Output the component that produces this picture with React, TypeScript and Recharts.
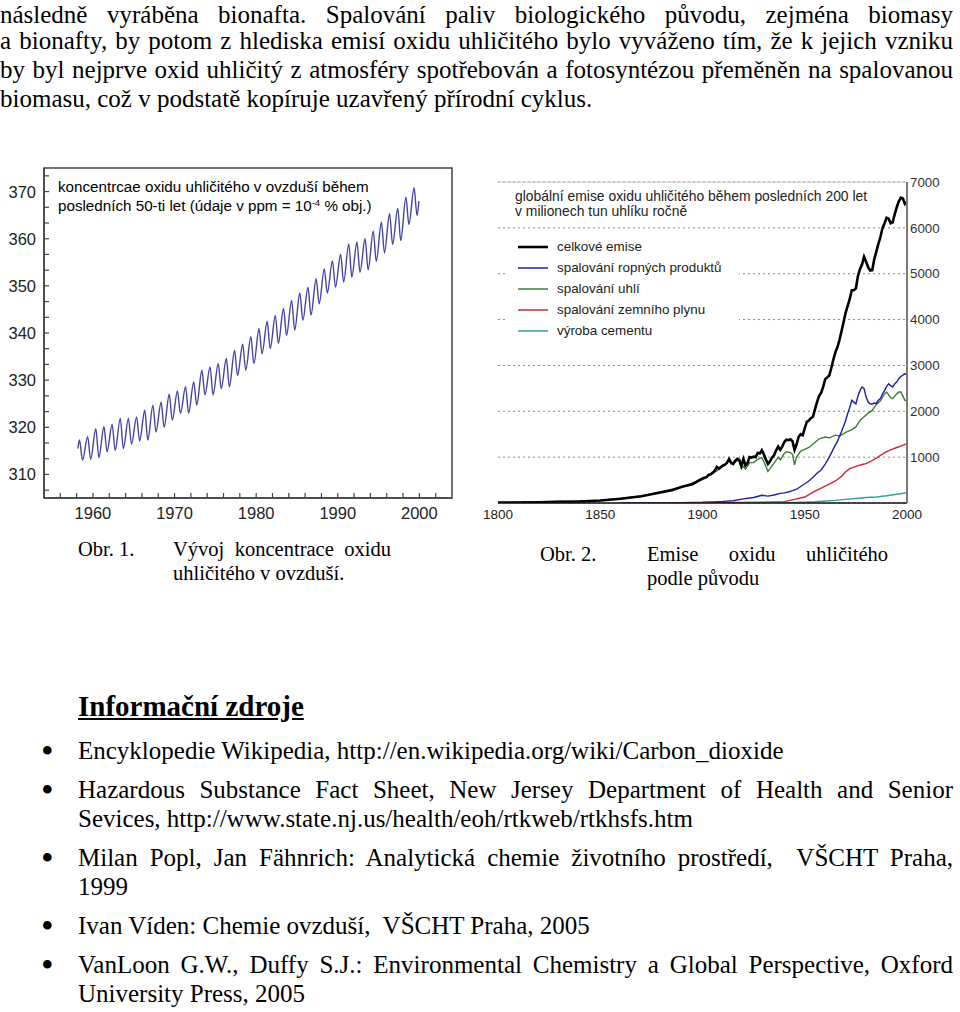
import { LineChart, Line, XAxis, YAxis, CartesianGrid, ReferenceArea, ReferenceLine, Legend } from 'recharts'

const serif = '"Liberation Serif", "Times New Roman", serif'
const sans = '"Liberation Sans", Arial, sans-serif'

// Obr. 1 – koncentrace CO2 v ppm, roční maxima a minima
const co2Years = [
  1958, 1959, 1960, 1961, 1962, 1963, 1964, 1965, 1966, 1967, 1968, 1969, 1970, 1971,
  1972, 1973, 1974, 1975, 1976, 1977, 1978, 1979, 1980, 1981, 1982, 1983, 1984, 1985,
  1986, 1987, 1988, 1989, 1990, 1991, 1992, 1993, 1994, 1995, 1996, 1997, 1998, 1999,
]
const co2Peaks = [
  317.3, 318.0, 319.7, 320.1, 320.6, 321.9, 321.9, 322.2, 323.6, 324.7, 325.3, 327.0, 327.7, 328.6,
  329.6, 332.1, 332.8, 333.5, 334.6, 336.3, 337.6, 339.2, 340.9, 342.5, 343.7, 345.2, 346.9, 348.5,
  349.7, 351.5, 353.6, 355.3, 356.7, 358.9, 359.3, 360.0, 361.6, 363.5, 365.3, 366.4, 368.8, 370.8,
]
const co2Troughs = [
  313.0, 313.2, 313.6, 314.8, 315.1, 315.5, 316.4, 317.1, 317.3, 319.0, 320.0, 321.5, 322.9, 323.0,
  324.7, 326.9, 326.9, 328.2, 328.6, 331.0, 332.1, 333.5, 335.6, 336.7, 337.8, 339.5, 340.6, 342.7,
  343.8, 346.2, 348.5, 349.7, 350.8, 351.9, 352.9, 353.4, 355.2, 357.0, 358.8, 359.6, 363.0, 364.9,
]
const co2FirstLast = [315.5, 368.0]

const co2XTicks = [
  1956, 1958, 1960, 1962, 1964, 1966, 1968, 1970, 1972, 1974, 1976, 1978,
  1980, 1982, 1984, 1986, 1988, 1990, 1992, 1994, 1996, 1998, 2000, 2002,
]
const co2XLabels = [1960, 1970, 1980, 1990, 2000]
const co2YTicks = [
  306.67, 310, 313.33, 316.67, 320, 323.33, 326.67, 330, 333.33, 336.67, 340, 343.33,
  346.67, 350, 353.33, 356.67, 360, 363.33, 366.67, 370, 373.33,
]
const co2YLabels = [310, 320, 330, 340, 350, 360, 370]

const co2Data = [
  { year: 1958.15, ppm: co2FirstLast[0] },
  ...co2Years.flatMap((y, i) => [
    { year: y + 0.35, ppm: co2Peaks[i] },
    { year: y + 0.72, ppm: co2Troughs[i] },
  ]),
  { year: 1999.95, ppm: co2FirstLast[1] },
]

// Obr. 2 – emise CO2 v milionech tun uhlíku ročně
const earlyYears = [1800, 1810, 1820, 1830, 1840, 1850, 1860, 1870, 1880, 1885, 1890, 1895]
const earlyTotal = [8, 10, 14, 24, 33, 54, 91, 147, 236, 280, 356, 410]
const yearly = Array.from({ length: 101 }, (_, i) => 1900 + i)
const totalYearly = [
  534, 552, 566, 617, 624, 663, 707, 784, 750, 785,
  819, 836, 879, 960, 880, 850, 920, 965, 940, 806,
  960, 820, 870, 1000, 990, 1010, 1000, 1090, 1080, 1150,
  1060, 950, 850, 910, 990, 1040, 1150, 1230, 1160, 1230,
  1330, 1380, 1370, 1390, 1350, 1160, 1280, 1440, 1500, 1480,
  1630, 1770, 1800, 1850, 1880, 2040, 2200, 2330, 2400, 2530,
  2700, 2740, 2780, 2950, 3130, 3290, 3400, 3560, 3750, 3950,
  4150, 4300, 4450, 4640, 4640, 4680, 4950, 5100, 5200, 5370,
  5260, 5140, 5070, 5080, 5320, 5480, 5650, 5800, 5990, 6100,
  6220, 6200, 6100, 6120, 6300, 6450, 6580, 6660, 6640, 6520,
  6560,
]
const totalYears = [...earlyYears, ...yearly]
const totalValues = [...earlyTotal, ...totalYearly]

const oilYears = [
  1860, 1870, 1880, 1890, 1900, 1905, 1910, 1915, 1920, 1925, 1929, 1932, 1935, 1938, 1940,
  1942, 1944, 1946, 1948, 1950, 1952, 1954, 1956, 1958, 1960, 1962, 1964, 1966, 1968, 1970,
  1971, 1972, 1973, 1974, 1975, 1976, 1977, 1978, 1979, 1980, 1981, 1982, 1983, 1984, 1985,
  1986, 1987, 1988, 1989, 1990, 1991, 1992, 1993, 1994, 1995, 1996, 1997, 1998, 1999, 2000,
]
const oilValues = [
  0, 1, 3, 8, 16, 25, 35, 50, 90, 120, 170, 150, 175, 210, 220,
  240, 268, 300, 360, 420, 480, 560, 650, 720, 850, 1000, 1180, 1350, 1560, 1800,
  1950, 2080, 2240, 2200, 2160, 2330, 2450, 2530, 2500, 2310, 2200, 2160, 2160, 2180, 2170,
  2240, 2280, 2380, 2450, 2540, 2600, 2560, 2530, 2600, 2640, 2710, 2760, 2790, 2820, 2790,
]

const coalYears = [
  1800, 1850, 1870, 1890, 1900, 1905, 1910, 1913, 1914, 1916, 1917, 1918, 1919, 1920, 1921,
  1922, 1923, 1925, 1927, 1929, 1930, 1932, 1934, 1936, 1937, 1938, 1940, 1941, 1943, 1944,
  1945, 1946, 1948, 1950, 1952, 1955, 1957, 1960, 1962, 1965, 1967, 1970, 1973, 1975, 1977,
  1979, 1981, 1983, 1985, 1987, 1989, 1990, 1992, 1993, 1995, 1996, 1997, 1998, 1999, 2000,
]
const coalValues = [
  8, 54, 146, 348, 518, 640, 790, 930, 850, 890, 930, 900, 760, 800, 740,
  800, 880, 880, 950, 990, 900, 690, 810, 935, 1000, 940, 1080, 1116, 1100, 1060,
  830, 1000, 1130, 1170, 1210, 1320, 1400, 1440, 1420, 1480, 1460, 1540, 1600, 1660, 1800,
  1880, 1960, 2020, 2150, 2230, 2380, 2420, 2300, 2275, 2380, 2420, 2420, 2330, 2240, 2230,
]

const gasYears = [
  1880, 1900, 1910, 1920, 1930, 1940, 1945, 1950, 1955, 1960, 1965, 1968, 1970,
  1972, 1975, 1978, 1980, 1982, 1985, 1987, 1990, 1992, 1995, 1997, 2000,
]
const gasValues = [
  0, 1, 4, 10, 20, 30, 80, 130, 260, 370, 480, 580, 680,
  750, 800, 840, 860, 900, 980, 1040, 1120, 1160, 1210, 1240, 1297,
]

const cementYears = [1920, 1930, 1940, 1950, 1955, 1960, 1965, 1970, 1975, 1980, 1985, 1990, 1995, 2000]
const cementValues = [1, 3, 6, 18, 28, 43, 58, 80, 98, 120, 130, 157, 190, 224]

const emisLabels = [
  'celkové emise',
  'spalování ropných produktů',
  'spalování uhlí',
  'spalování zemního plynu',
  'výroba cementu',
]
const emisColors = ['#000000', '#1f1fa6', '#3a7d3a', '#c92a3a', '#2aa39a']
const emisXTicks = [1800, 1850, 1900, 1950, 2000]
const emisYTicks = [1000, 2000, 3000, 4000, 5000, 6000, 7000]

const toSeries = (years: number[], values: number[]) =>
  years.map((year, i) => ({ year, value: values[i] }))

const totalData = toSeries(totalYears, totalValues)
const oilData = toSeries(oilYears, oilValues)
const coalData = toSeries(coalYears, coalValues)
const gasData = toSeries(gasYears, gasValues)
const cementData = toSeries(cementYears, cementValues)

function Co2XTick({ x, y, payload }: any) {
  const major = co2XLabels.includes(payload.value)
  return (
    <g>
      <line x1={x} x2={x} y1={y} y2={y - 5} stroke="#444" strokeWidth={1.2} />
      {major && (
        <text x={x} y={y + 21} textAnchor="middle" fontSize={16.5} fill="#222" fontFamily={sans}>
          {payload.value}
        </text>
      )}
    </g>
  )
}

function Co2YTick({ x, y, payload }: any) {
  const major = co2YLabels.includes(payload.value)
  return (
    <g>
      <line x1={x} x2={x + 5} y1={y} y2={y} stroke="#444" strokeWidth={1.2} />
      {major && (
        <text x={x - 8} y={y + 6} textAnchor="end" fontSize={16.5} fill="#222" fontFamily={sans}>
          {payload.value}
        </text>
      )}
    </g>
  )
}

function EmisXTick({ x, y, payload }: any) {
  return (
    <text x={x} y={y + 16} textAnchor="middle" fontSize={13.5} fill="#222" fontFamily={sans}>
      {payload.value}
    </text>
  )
}

function EmisYTick({ x, y, payload }: any) {
  return (
    <text x={x + 3} y={y + 4.7} textAnchor="start" fontSize={13.3} fill="#333" fontFamily={sans}>
      {payload.value}
    </text>
  )
}

function EmisLegend() {
  return (
    <div style={{ fontFamily: sans, fontSize: 13.4, color: '#222' }}>
      {emisLabels.map((label, i) => (
        <div key={label} style={{ display: 'flex', alignItems: 'center', height: 21 }}>
          <svg width={30} height={6} style={{ marginLeft: 11, marginRight: 9 }}>
            <line x1={0} x2={30} y1={3} y2={3} stroke={emisColors[i]} strokeWidth={i === 0 ? 2.6 : 1.5} />
          </svg>
          <span>{label}</span>
        </div>
      ))}
    </div>
  )
}

function Co2Chart() {
  return (
    <div style={{ position: 'absolute', left: 0, top: 160 }}>
      <LineChart width={460} height={370} data={co2Data} margin={{ top: 8, right: 8, bottom: 2, left: 4 }}>
        <XAxis
          dataKey="year"
          type="number"
          domain={[1954, 2004]}
          allowDataOverflow
          ticks={co2XTicks}
          interval={0}
          tickSize={0}
          tickMargin={0}
          tickLine={false}
          tick={Co2XTick}
          height={30}
          axisLine={{ stroke: '#444', strokeWidth: 1.5 }}
        />
        <YAxis
          type="number"
          domain={[305, 375]}
          allowDataOverflow
          ticks={co2YTicks}
          interval={0}
          tickSize={0}
          tickMargin={0}
          tickLine={false}
          tick={Co2YTick}
          width={40}
          axisLine={{ stroke: '#444', strokeWidth: 1.5 }}
        />
        <ReferenceArea x1={1954} x2={2004} y1={305} y2={375} fill="none" stroke="#444" strokeWidth={1.5} />
        <Line
          dataKey="ppm"
          type="monotone"
          stroke="#4444a0"
          strokeWidth={1.4}
          dot={false}
          isAnimationActive={false}
        />
      </LineChart>
      <div
        style={{
          position: 'absolute',
          left: 58,
          top: 18,
          fontFamily: sans,
          fontSize: 15.2,
          lineHeight: '18.6px',
          color: '#000',
          whiteSpace: 'nowrap',
        }}
      >
        <div>koncentrcae oxidu uhličitého v ovzduší během</div>
        <div>
          posledních 50-ti let (údaje v ppm = 10
          <span style={{ fontSize: 9.5, verticalAlign: 'top', lineHeight: '12px' }}>-4</span> % obj.)
        </div>
      </div>
    </div>
  )
}

function EmisChart() {
  return (
    <div style={{ position: 'absolute', left: 480, top: 170 }}>
      <LineChart width={480} height={361} margin={{ top: 12, right: 3, bottom: 4, left: 18 }}>
        <CartesianGrid vertical={false} stroke="#8a8a8a" strokeDasharray="2 3" />
        <XAxis
          dataKey="year"
          type="number"
          domain={[1800, 2000]}
          allowDataOverflow
          ticks={emisXTicks}
          interval={0}
          tickSize={0}
          tickMargin={0}
          tickLine={false}
          tick={EmisXTick}
          height={24}
          axisLine={{ stroke: '#111', strokeWidth: 1.6 }}
        />
        <YAxis
          orientation="right"
          type="number"
          domain={[0, 7000]}
          allowDataOverflow
          ticks={emisYTicks}
          interval={0}
          tickSize={0}
          tickMargin={0}
          tickLine={false}
          tick={EmisYTick}
          width={50}
          axisLine={{ stroke: '#7a7a7a', strokeWidth: 2 }}
        />
        <ReferenceLine y={7000} stroke="#c8c8c8" strokeWidth={1} />
        <Legend
          verticalAlign="middle"
          align="center"
          layout="horizontal"
          content={EmisLegend}
          wrapperStyle={{ left: 27, top: 66, width: 232, height: 106, background: '#fff' }}
        />
        <Line data={coalData} dataKey="value" name={emisLabels[2]} type="linear" stroke={emisColors[2]} strokeWidth={1.4} dot={false} isAnimationActive={false} />
        <Line data={oilData} dataKey="value" name={emisLabels[1]} type="linear" stroke={emisColors[1]} strokeWidth={1.4} dot={false} isAnimationActive={false} />
        <Line data={gasData} dataKey="value" name={emisLabels[3]} type="linear" stroke={emisColors[3]} strokeWidth={1.4} dot={false} isAnimationActive={false} />
        <Line data={cementData} dataKey="value" name={emisLabels[4]} type="linear" stroke={emisColors[4]} strokeWidth={1.4} dot={false} isAnimationActive={false} />
        <Line data={totalData} dataKey="value" name={emisLabels[0]} type="linear" stroke={emisColors[0]} strokeWidth={2.6} dot={false} isAnimationActive={false} />
      </LineChart>
      <div
        style={{
          position: 'absolute',
          left: 35,
          top: 19,
          fontFamily: sans,
          fontSize: 13.9,
          lineHeight: '15px',
          color: '#222',
          whiteSpace: 'nowrap',
        }}
      >
        <div>globální emise oxidu uhličitého během posledních 200 let</div>
        <div>v milionech tun uhlíku ročně</div>
      </div>
    </div>
  )
}

function TLine({ left, top, width, size = 25, lh = 29, justify = false, children, style }: any) {
  return (
    <div
      style={{
        position: 'absolute',
        left,
        top,
        width,
        fontFamily: serif,
        fontSize: size,
        lineHeight: `${lh}px`,
        textAlign: justify ? 'justify' : 'left',
        textAlignLast: justify ? 'justify' : 'left',
        color: '#000',
        ...style,
      }}
    >
      {children}
    </div>
  )
}

function Bullet({ top }: { top: number }) {
  return (
    <TLine left={41} top={top + 1} width={20} size={36}>
      •
    </TLine>
  )
}

export default function App() {
  return (
    <div
      style={{
        position: 'absolute',
        left: 0,
        top: 0,
        width: 960,
        height: 1012,
        background: '#fff',
        overflow: 'hidden',
      }}
    >
      <TLine left={0} top={2} lh={26} width={953} justify>
        následně vyráběna bionafta. Spalování paliv biologického původu, zejména biomasy
      </TLine>
      <TLine left={0} top={26} width={953} justify>
        a bionafty, by potom z hlediska emisí oxidu uhličitého bylo vyváženo tím, že k jejich vzniku
      </TLine>
      <TLine left={0} top={55} width={953} justify>
        by byl nejprve oxid uhličitý z atmosféry spotřebován a fotosyntézou přeměněn na spalovanou
      </TLine>
      <TLine left={0} top={84} width={953}>
        biomasu, což v podstatě kopíruje uzavřený přírodní cyklus.
      </TLine>

      <Co2Chart />
      <EmisChart />

      <TLine left={78} top={537} width={80} size={20.5} lh={24}>
        Obr. 1.
      </TLine>
      <TLine left={173} top={537} width={218} size={20.5} lh={24} justify>
        Vývoj koncentrace oxidu
      </TLine>
      <TLine left={173} top={561} width={240} size={20.5} lh={24}>
        uhličitého v ovzduší.
      </TLine>
      <TLine left={540} top={542} width={80} size={20.5} lh={24}>
        Obr. 2.
      </TLine>
      <TLine left={647} top={542} width={241} size={20.5} lh={24} justify>
        Emise oxidu uhličitého
      </TLine>
      <TLine left={647} top={566} width={241} size={20.5} lh={24}>
        podle původu
      </TLine>

      <TLine left={78} top={690} width={400} size={29} lh={33} style={{ fontWeight: 'bold', textDecoration: 'underline' }}>
        Informační zdroje
      </TLine>

      <Bullet top={736} />
      <TLine left={78} top={736} width={875}>
        Encyklopedie Wikipedia, http://en.wikipedia.org/wiki/Carbon_dioxide
      </TLine>

      <Bullet top={775} />
      <TLine left={78} top={775} width={875} justify>
        Hazardous Substance Fact Sheet, New Jersey Department of Health and Senior
      </TLine>
      <TLine left={78} top={804} width={875}>
        Sevices, http://www.state.nj.us/health/eoh/rtkweb/rtkhsfs.htm
      </TLine>

      <Bullet top={843} />
      <TLine left={78} top={843} width={875} justify>
        Milan Popl, Jan Fähnrich: Analytická chemie životního prostředí,&nbsp; VŠCHT Praha,
      </TLine>
      <TLine left={78} top={872} width={875}>
        1999
      </TLine>

      <Bullet top={911} />
      <TLine left={78} top={911} width={875}>
        Ivan Víden: Chemie ovzduší,&nbsp; VŠCHT Praha, 2005
      </TLine>

      <Bullet top={950} />
      <TLine left={78} top={950} width={875} justify>
        VanLoon G.W., Duffy S.J.: Environmental Chemistry a Global Perspective, Oxford
      </TLine>
      <TLine left={78} top={979} width={875}>
        University Press, 2005
      </TLine>
    </div>
  )
}
